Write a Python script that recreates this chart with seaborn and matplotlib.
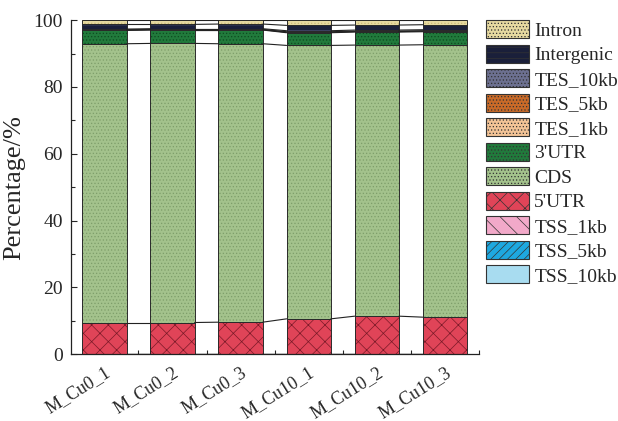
import numpy as np
import pandas as pd
import matplotlib
matplotlib.use('Agg')
import matplotlib.pyplot as plt
import matplotlib.patches as mpatches
from matplotlib.ticker import MultipleLocator
import seaborn as sns

# ── Data (percent, bottom → top) ──────────────────────────────
samples = ['M_Cu0_1', 'M_Cu0_2', 'M_Cu0_3', 'M_Cu10_1', 'M_Cu10_2', 'M_Cu10_3']
features = ['TSS_10kb', 'TSS_5kb', 'TSS_1kb', "5'UTR", 'CDS', "3'UTR",
            'TES_1kb', 'TES_5kb', 'TES_10kb', 'Intergenic', 'Intron']

tss_10kb   = [0.05, 0.05, 0.05, 0.05, 0.05, 0.05]
tss_5kb    = [0.05, 0.05, 0.05, 0.05, 0.05, 0.05]
tss_1kb    = [0.05, 0.05, 0.05, 0.05, 0.05, 0.05]
utr5       = [9.3, 9.3, 9.4, 10.4, 11.2, 10.9]
cds        = [83.5, 83.6, 83.4, 81.9, 81.2, 81.6]
utr3       = [4.0, 4.0, 4.1, 3.8, 3.9, 3.9]
tes_1kb    = [0.1, 0.1, 0.1, 0.15, 0.15, 0.15]
tes_5kb    = [0.1, 0.1, 0.1, 0.15, 0.15, 0.15]
tes_10kb   = [0.2, 0.2, 0.2, 0.3, 0.3, 0.3]
intergenic = [1.4, 1.3, 1.4, 1.6, 1.5, 1.5]
intron     = [1.25, 1.25, 1.15, 1.55, 1.45, 1.35]

layers = [tss_10kb, tss_5kb, tss_1kb, utr5, cds, utr3,
          tes_1kb, tes_5kb, tes_10kb, intergenic, intron]

# colour, hatch colour, hatch pattern
STYLE = {
    'TSS_10kb':   ('#a8dcf0', '#a8dcf0', ''),
    'TSS_5kb':    ('#1ea8e0', '#0f4f80', '////'),
    'TSS_1kb':    ('#f2a9c9', '#9a4a70', '\\\\'),
    "5'UTR":      ('#e04458', '#7a1a28', 'xx'),
    'CDS':        ('#a3c28c', '#7e9e6a', '.....'),
    "3'UTR":      ('#217a3c', '#0e4a20', '.....'),
    'TES_1kb':    ('#f2c396', '#d8a070', '.....'),
    'TES_5kb':    ('#c86a28', '#8a4010', '.....'),
    'TES_10kb':   ('#6c7090', '#c0c4d8', '.....'),
    'Intergenic': ('#1a1f3a', '#4a5070', '---'),
    'Intron':     ('#e6d9a0', '#c8b878', '.....'),
}

plt.rcParams['hatch.linewidth'] = 0.5
sns.set_style('ticks')
plt.rcParams['font.family'] = ['Liberation Serif', 'DejaVu Serif']
plt.rcParams['xtick.direction'] = 'in'
plt.rcParams['ytick.direction'] = 'in'

fig = plt.figure(figsize=(6.18, 4.21), dpi=100)
ax = fig.add_axes([0.115, 0.159, 0.66, 0.793])

W = 0.65
bottom = np.zeros(len(samples))
tops = []
for name, vals in zip(features, layers):
    face, hcol, hatch = STYLE[name]
    df = pd.DataFrame({'sample': samples, 'value': vals})
    sns.barplot(data=df, x='sample', y='value', ax=ax, bottom=bottom,
                color=face, width=W, saturation=1, edgecolor=hcol,
                hatch=hatch, linewidth=0, errorbar=None)
    bottom = bottom + np.array(vals)
    tops.append(bottom.copy())

# outlines on every segment
bottom = np.zeros(len(samples))
xpos = np.arange(len(samples))
for vals in layers:
    ax.bar(xpos, vals, bottom=bottom, width=W, fill=False,
           edgecolor='#2a2a2a', linewidth=0.7)
    bottom = bottom + np.array(vals)

# connecting lines between neighbouring bars
for t in [np.zeros(len(samples))] + tops:
    for i in range(len(samples) - 1):
        ax.plot([xpos[i] + W / 2, xpos[i + 1] - W / 2], [t[i], t[i + 1]],
                color='#222222', lw=0.8)

ax.set_xlim(-0.49, 5.35)
ax.set_ylim(0, 100)
ax.yaxis.set_major_locator(MultipleLocator(20))
ax.yaxis.set_minor_locator(MultipleLocator(10))
ax.set_xticks(xpos + 0.5, minor=True)
ax.tick_params(axis='y', which='major', labelsize=14, length=4, width=0.8, pad=6)
ax.tick_params(axis='x', which='major', labelsize=13, length=4, width=0.8, pad=7)
ax.tick_params(axis='both', which='minor', length=3, width=0.8)
ax.set_xticks(xpos)
ax.set_xticklabels(samples, rotation=32, ha='right', rotation_mode='anchor')
ax.set_xlabel('')
ax.set_ylabel('Percentage/%', fontsize=19, labelpad=6)
sns.despine(ax=ax)
for s in ['left', 'bottom']:
    ax.spines[s].set_linewidth(0.9)
    ax.spines[s].set_color('#222222')

# legend, top entry first
handles = []
for name in features[::-1]:
    face, hcol, hatch = STYLE[name]
    handles.append(mpatches.Patch(facecolor=face, edgecolor='#333333',
                                  hatch=hatch, linewidth=0.8, label=name))
leg = fig.legend(handles=handles, loc='upper left', bbox_to_anchor=(0.786, 0.952),
                 frameon=False, fontsize=14, handlelength=2.2, handleheight=1.05,
                 labelspacing=0.25, handletextpad=0.3, borderaxespad=0,
                 borderpad=0)

plt.savefig('out.png', dpi=100)
